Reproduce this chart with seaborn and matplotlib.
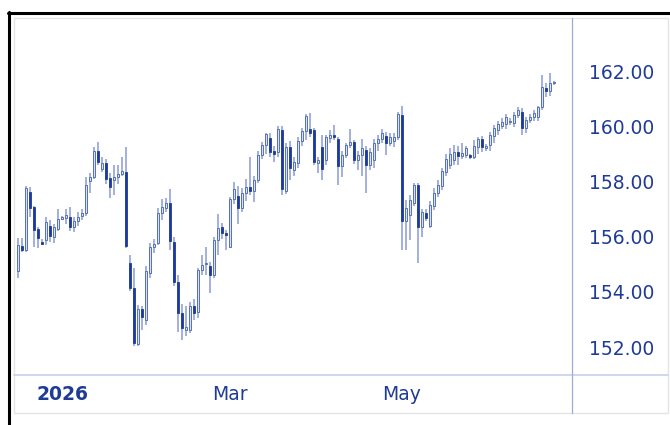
import numpy as np
import pandas as pd
import matplotlib
matplotlib.use("Agg")
import matplotlib.pyplot as plt
import matplotlib.transforms as mtrans
from matplotlib.lines import Line2D
from matplotlib.patches import Rectangle
import seaborn as sns

# daily OHLC (Dec 2025 - Jun 2026)
opens = [154.75, 155.65, 155.50, 157.60, 157.07, 156.28, 155.82, 155.88, 156.40, 156.00,
         156.29, 156.65, 156.66, 156.70, 156.34, 156.58, 156.75, 156.87, 158.03, 158.17,
         159.11, 158.44, 158.66, 158.11, 158.05, 158.16, 158.27, 158.35, 155.05, 154.14,
         152.13, 153.37, 153.00, 154.69, 155.62, 155.76, 156.85, 157.04, 157.21, 155.82,
         154.37, 153.22, 152.62, 152.61, 153.49, 153.28, 154.79, 155.00, 154.93, 154.61,
         155.88, 156.34, 156.12, 155.63, 157.35, 157.47, 157.03, 157.57, 157.79, 157.66,
         158.05, 158.96, 159.32, 159.56, 159.11, 159.08, 159.86, 157.66, 159.24, 158.40,
         158.68, 159.48, 159.84, 159.89, 159.86, 158.66, 159.24, 158.78, 159.56, 159.70,
         159.53, 158.56, 158.96, 159.32, 159.44, 158.78, 158.96, 159.14, 158.59, 158.78,
         159.38, 159.53, 159.64, 159.40, 159.45, 159.60, 160.41, 156.58, 156.78, 157.21,
         157.87, 156.36, 156.87, 156.38, 157.10, 157.57, 157.83, 158.35, 158.59, 158.78,
         159.08, 158.92, 158.96, 158.92, 158.90, 159.24, 159.52, 159.22, 159.32, 159.64,
         159.86, 160.00, 160.08, 160.15, 160.10, 160.41, 160.53, 159.92, 160.22, 160.35,
         160.35, 160.68, 161.37, 161.29, 161.55]
highs = [155.95, 155.95, 157.83, 157.80, 157.10, 156.35, 155.90, 156.71, 156.60, 156.45,
         156.99, 156.75, 156.99, 157.06, 156.70, 156.90, 157.00, 158.16, 158.30, 159.25,
         159.44, 158.90, 158.80, 158.30, 158.59, 158.59, 158.90, 159.26, 155.33, 154.85,
         153.52, 153.50, 154.93, 155.76, 155.90, 157.05, 157.36, 157.40, 157.72, 156.00,
         154.60, 153.55, 153.50, 153.65, 153.75, 154.85, 155.33, 155.63, 155.10, 156.00,
         156.82, 156.50, 156.25, 157.45, 157.99, 157.83, 157.75, 158.08, 158.90, 158.20,
         159.10, 159.44, 159.77, 159.75, 159.30, 160.00, 160.00, 159.38, 159.45, 158.90,
         159.60, 159.95, 160.44, 160.47, 159.95, 158.90, 159.68, 159.70, 159.85, 160.04,
         159.60, 159.10, 159.40, 159.89, 159.50, 159.10, 159.53, 159.30, 159.20, 159.53,
         159.70, 159.90, 159.80, 159.75, 159.75, 160.50, 160.73, 157.33, 157.50, 157.95,
         157.95, 157.00, 157.00, 157.30, 157.75, 158.05, 158.50, 159.00, 159.20, 159.32,
         159.30, 159.38, 159.30, 159.00, 159.50, 159.60, 159.64, 159.35, 159.80, 160.05,
         160.20, 160.30, 160.45, 160.30, 160.50, 160.70, 160.65, 160.35, 160.45, 160.60,
         160.75, 161.86, 161.55, 161.92, 161.65]
lows = [154.50, 155.45, 155.45, 156.70, 155.62, 155.58, 155.70, 155.70, 155.80, 155.77,
        156.20, 156.60, 156.45, 156.20, 156.18, 156.40, 156.60, 156.75, 157.57, 158.10,
        158.60, 158.35, 157.90, 157.40, 157.50, 157.90, 158.20, 155.60, 154.05, 152.04,
        152.05, 152.62, 152.80, 154.50, 155.40, 155.70, 156.60, 156.90, 155.51, 154.20,
        152.56, 152.25, 152.40, 152.50, 153.00, 153.05, 154.60, 154.60, 153.97, 154.50,
        155.33, 155.90, 155.51, 155.60, 157.20, 156.46, 156.90, 157.30, 157.50, 157.26,
        157.95, 158.80, 159.00, 158.90, 158.70, 158.90, 157.50, 157.55, 158.05, 158.20,
        158.50, 159.30, 159.50, 159.60, 158.60, 158.29, 158.05, 158.60, 159.40, 159.50,
        157.87, 158.17, 158.85, 159.20, 158.65, 158.40, 158.20, 157.57, 158.40, 158.50,
        159.10, 159.40, 158.96, 159.30, 159.26, 159.50, 155.51, 155.51, 155.88, 157.10,
        155.03, 156.00, 156.55, 156.30, 156.95, 157.45, 157.70, 158.20, 158.45, 158.60,
        158.60, 158.80, 158.85, 158.80, 158.80, 159.00, 159.08, 159.10, 159.10, 159.38,
        159.70, 159.90, 159.90, 160.05, 159.98, 160.30, 159.70, 159.74, 160.10, 160.20,
        160.20, 160.60, 161.07, 161.10, 161.50]
closes = [155.70, 155.50, 157.75, 157.05, 156.24, 155.95, 155.75, 156.54, 156.02, 156.35,
          156.63, 156.68, 156.78, 156.36, 156.58, 156.70, 156.87, 157.87, 158.15, 159.11,
          158.69, 158.66, 158.08, 157.81, 158.17, 158.27, 158.39, 155.66, 154.13, 152.16,
          153.37, 153.08, 154.76, 155.62, 155.73, 156.87, 157.07, 157.21, 155.85, 154.37,
          153.22, 152.68, 152.74, 153.49, 153.24, 154.79, 154.97, 155.03, 154.61, 155.88,
          156.30, 156.12, 156.05, 157.35, 157.71, 157.03, 157.57, 157.81, 157.64, 158.05,
          158.96, 159.32, 159.72, 159.08, 158.99, 159.89, 157.71, 159.24, 158.50, 158.70,
          159.48, 159.84, 160.37, 159.74, 158.71, 158.78, 158.44, 159.62, 159.68, 159.62,
          158.56, 158.96, 159.32, 159.44, 158.78, 158.96, 159.20, 158.59, 159.08, 159.40,
          159.53, 159.74, 159.40, 159.62, 159.62, 160.44, 156.58, 157.03, 157.33, 157.87,
          156.36, 156.90, 156.66, 157.14, 157.59, 157.87, 158.39, 158.80, 158.99, 159.08,
          158.92, 159.02, 159.20, 158.90, 159.28, 159.52, 159.24, 159.25, 159.68, 159.92,
          160.08, 160.16, 160.32, 160.17, 160.40, 160.59, 159.92, 160.22, 160.35, 160.49,
          160.71, 161.41, 161.29, 161.58, 161.60]

price_ticks = [152, 154, 156, 158, 160, 162]
month_labels = {1: "2026", 3: "Mar", 5: "May"}

holidays = pd.to_datetime(["2025-12-25", "2026-01-01", "2026-01-19", "2026-02-16",
                           "2026-04-03", "2026-05-25", "2026-06-19"])
days = pd.bdate_range("2025-12-11", "2026-07-15")
days = days[~days.isin(holidays)][:len(opens)]

df = pd.DataFrame({"date": days, "open": opens, "high": highs,
                   "low": lows, "close": closes})
df["x"] = np.arange(len(df))
df["up"] = df["close"] >= df["open"]

sns.set_theme(style="white")
plt.rcParams["font.family"] = ["DejaVu Sans"]

txt = "#1e3b96"
dark = "#1c3a9e"
wick = "#8a9ad8"

fig = plt.figure(figsize=(6.7, 4.25), dpi=100)
W, H = 670, 425


def fx(px):
    return px / W


def fy(py):
    return 1 - py / H


# panel and frame
fig.add_artist(Rectangle((fx(14), fy(413)), fx(668) - fx(14), fy(18) - fy(413),
                         transform=fig.transFigure, facecolor="white",
                         edgecolor="#e4e4e4", lw=1, zorder=0))
fig.add_artist(Line2D([fx(8), 1], [fy(13), fy(13)], transform=fig.transFigure,
                      color="black", lw=2.2))
fig.add_artist(Line2D([fx(9), fx(9)], [fy(12), 0], transform=fig.transFigure,
                      color="black", lw=2.2))

ax = fig.add_axes([fx(14), fy(375), fx(572) - fx(14), fy(18) - fy(375)])
ax.set_facecolor("none")

# wicks
ax.vlines(df["x"], df["low"], df["high"], color=wick, lw=1.1, zorder=1)

# bodies
body = (df["close"] - df["open"]).abs().clip(lower=0.05)
bottom = df[["open", "close"]].min(axis=1)
up = df["up"]
ax.bar(df.loc[up, "x"], body[up], bottom=bottom[up], width=0.62,
       facecolor="#d9e0f3", edgecolor="#5470c0", lw=0.7, zorder=2)
ax.bar(df.loc[~up, "x"], body[~up], bottom=bottom[~up], width=0.62,
       facecolor=dark, edgecolor=dark, lw=0.6, zorder=2)

ax.set_xlim(-1, 138.5)
ax.set_ylim(150.99, 163.92)

for s in ax.spines.values():
    s.set_visible(False)

ax.yaxis.tick_right()
ax.set_yticks(price_ticks)
ax.set_yticklabels([f"{v:.2f}" for v in price_ticks])
ax.tick_params(axis="y", length=0, pad=12, labelsize=13.5, labelcolor=txt)

first = df.groupby([df["date"].dt.year, df["date"].dt.month])["x"].min()
tick_x, tick_l = [], []
for (yr, mo), xi in first.items():
    if yr == 2026 and mo in month_labels:
        tick_x.append(xi)
        tick_l.append(month_labels[mo])
ax.set_xticks(tick_x)
ax.set_xticklabels(tick_l)
ax.tick_params(axis="x", length=0, pad=7, labelsize=13.5, labelcolor=txt)
shift = mtrans.ScaledTranslation(-12 / 100, 0, fig.dpi_scale_trans)
for lab in ax.get_xticklabels():
    if lab.get_text() == "2026":
        lab.set_fontweight("bold")
        lab.set_transform(lab.get_transform() + shift)

# separators
fig.add_artist(Line2D([fx(14), fx(668)], [fy(375), fy(375)], transform=fig.transFigure,
                      color="#c8d0ea", lw=1.2))
fig.add_artist(Line2D([fx(572), fx(572)], [fy(18), fy(413)], transform=fig.transFigure,
                      color="#9eacdc", lw=0.9))

fig.savefig("out.png", dpi=100)
